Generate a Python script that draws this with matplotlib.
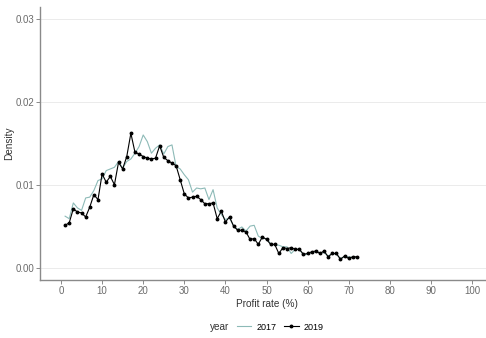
import numpy as np
import matplotlib.pyplot as plt
from matplotlib.lines import Line2D

plt.rcParams['font.family'] = ['Liberation Sans', 'DejaVu Sans']

# profit rate bins (%)
rate = np.arange(1, 73)

dens_2017 = [0.0062, 0.0059, 0.0078, 0.0072, 0.0069, 0.0084, 0.0085, 0.0093, 0.0105, 0.0107,
             0.0117, 0.0119, 0.0121, 0.0128, 0.0120, 0.0128, 0.0131, 0.0138, 0.0146, 0.0160,
             0.0152, 0.0138, 0.0144, 0.0148, 0.0137, 0.0146, 0.0148, 0.0122, 0.0119, 0.0112,
             0.0106, 0.0091, 0.0096, 0.0095, 0.0096, 0.0082, 0.0094, 0.0072, 0.0064, 0.0058,
             0.0060, 0.0050, 0.0046, 0.0049, 0.0044, 0.0050, 0.0051, 0.0038, 0.0035, 0.0035,
             0.0029, 0.0027, 0.0027, 0.0025, 0.0025, 0.0017, 0.0022, 0.0022, 0.0015, 0.0016,
             0.0018, 0.0019, 0.0018, 0.0018, 0.0014, 0.0017, 0.0016, 0.0011, 0.0013, 0.0013,
             0.0012, 0.0012]

dens_2019 = [0.0051, 0.0054, 0.0071, 0.0067, 0.0066, 0.0061, 0.0073, 0.0088, 0.0082, 0.0113,
             0.0103, 0.0110, 0.0100, 0.0127, 0.0119, 0.0134, 0.0162, 0.0139, 0.0137, 0.0134,
             0.0132, 0.0131, 0.0132, 0.0147, 0.0133, 0.0129, 0.0126, 0.0123, 0.0106, 0.0089,
             0.0084, 0.0085, 0.0086, 0.0082, 0.0077, 0.0077, 0.0078, 0.0059, 0.0068, 0.0055,
             0.0061, 0.0050, 0.0045, 0.0045, 0.0043, 0.0034, 0.0035, 0.0028, 0.0037, 0.0034,
             0.0028, 0.0028, 0.0017, 0.0024, 0.0023, 0.0024, 0.0022, 0.0022, 0.0016, 0.0017,
             0.0019, 0.0020, 0.0017, 0.0020, 0.0013, 0.0017, 0.0017, 0.0010, 0.0014, 0.0011,
             0.0013, 0.0013]

years = ["2017", "2019"]
xticks = np.arange(0, 101, 10)
yticks = [0.00, 0.01, 0.02, 0.03]

teal = "#8dbab7"
grey_txt = "#6b6b6b"
axis_col = "#8a8a8a"

fig = plt.figure(figsize=(4.86, 3.38), dpi=100)
ax = fig.add_axes([40.45 / 486, 1 - 280 / 338, 452.1 / 486, 273.5 / 338])

ax.plot(rate, dens_2017, color=teal, lw=0.8, label=years[0])
ax.plot(rate, dens_2019, color="black", lw=0.8, marker="o", ms=1.8, label=years[1])

ax.set_xlim(-5, 105)
ax.set_ylim(-0.0015, 0.0315)
ax.set_xticks(xticks)
ax.set_yticks(yticks)
ax.set_yticklabels(["%.2f" % v for v in yticks])

ax.grid(axis="y", color="#ebebeb", lw=0.7)
ax.set_axisbelow(True)
for s in ["top", "right"]:
    ax.spines[s].set_visible(False)
for s in ["left", "bottom"]:
    ax.spines[s].set_color(axis_col)
    ax.spines[s].set_linewidth(1.0)
ax.tick_params(colors=axis_col, labelcolor=grey_txt, labelsize=7, length=3, width=0.7, pad=1.5)

ax.set_xlabel("Profit rate (%)", fontsize=7.2, color="#333333", labelpad=2)
ax.set_ylabel("Density", fontsize=7.2, color="#333333")
ax.yaxis.set_label_coords(-0.058, 0.5)

# legend along the bottom, title on the left
fig.text(210 / 486, 1 - 327 / 338, "year", fontsize=7.2, color="#333333", va="center")
handles = [Line2D([], [], color=teal, lw=0.8),
           Line2D([], [], color="black", lw=0.8, marker="o", ms=1.8)]
fig.legend(handles, years, loc="center left", bbox_to_anchor=(237 / 486, 1 - 327 / 338),
           ncol=2, frameon=False, fontsize=6.5, handlelength=1.6, handletextpad=0.6,
           columnspacing=0.8, borderpad=0, borderaxespad=0)

fig.savefig("out.png", dpi=100)
